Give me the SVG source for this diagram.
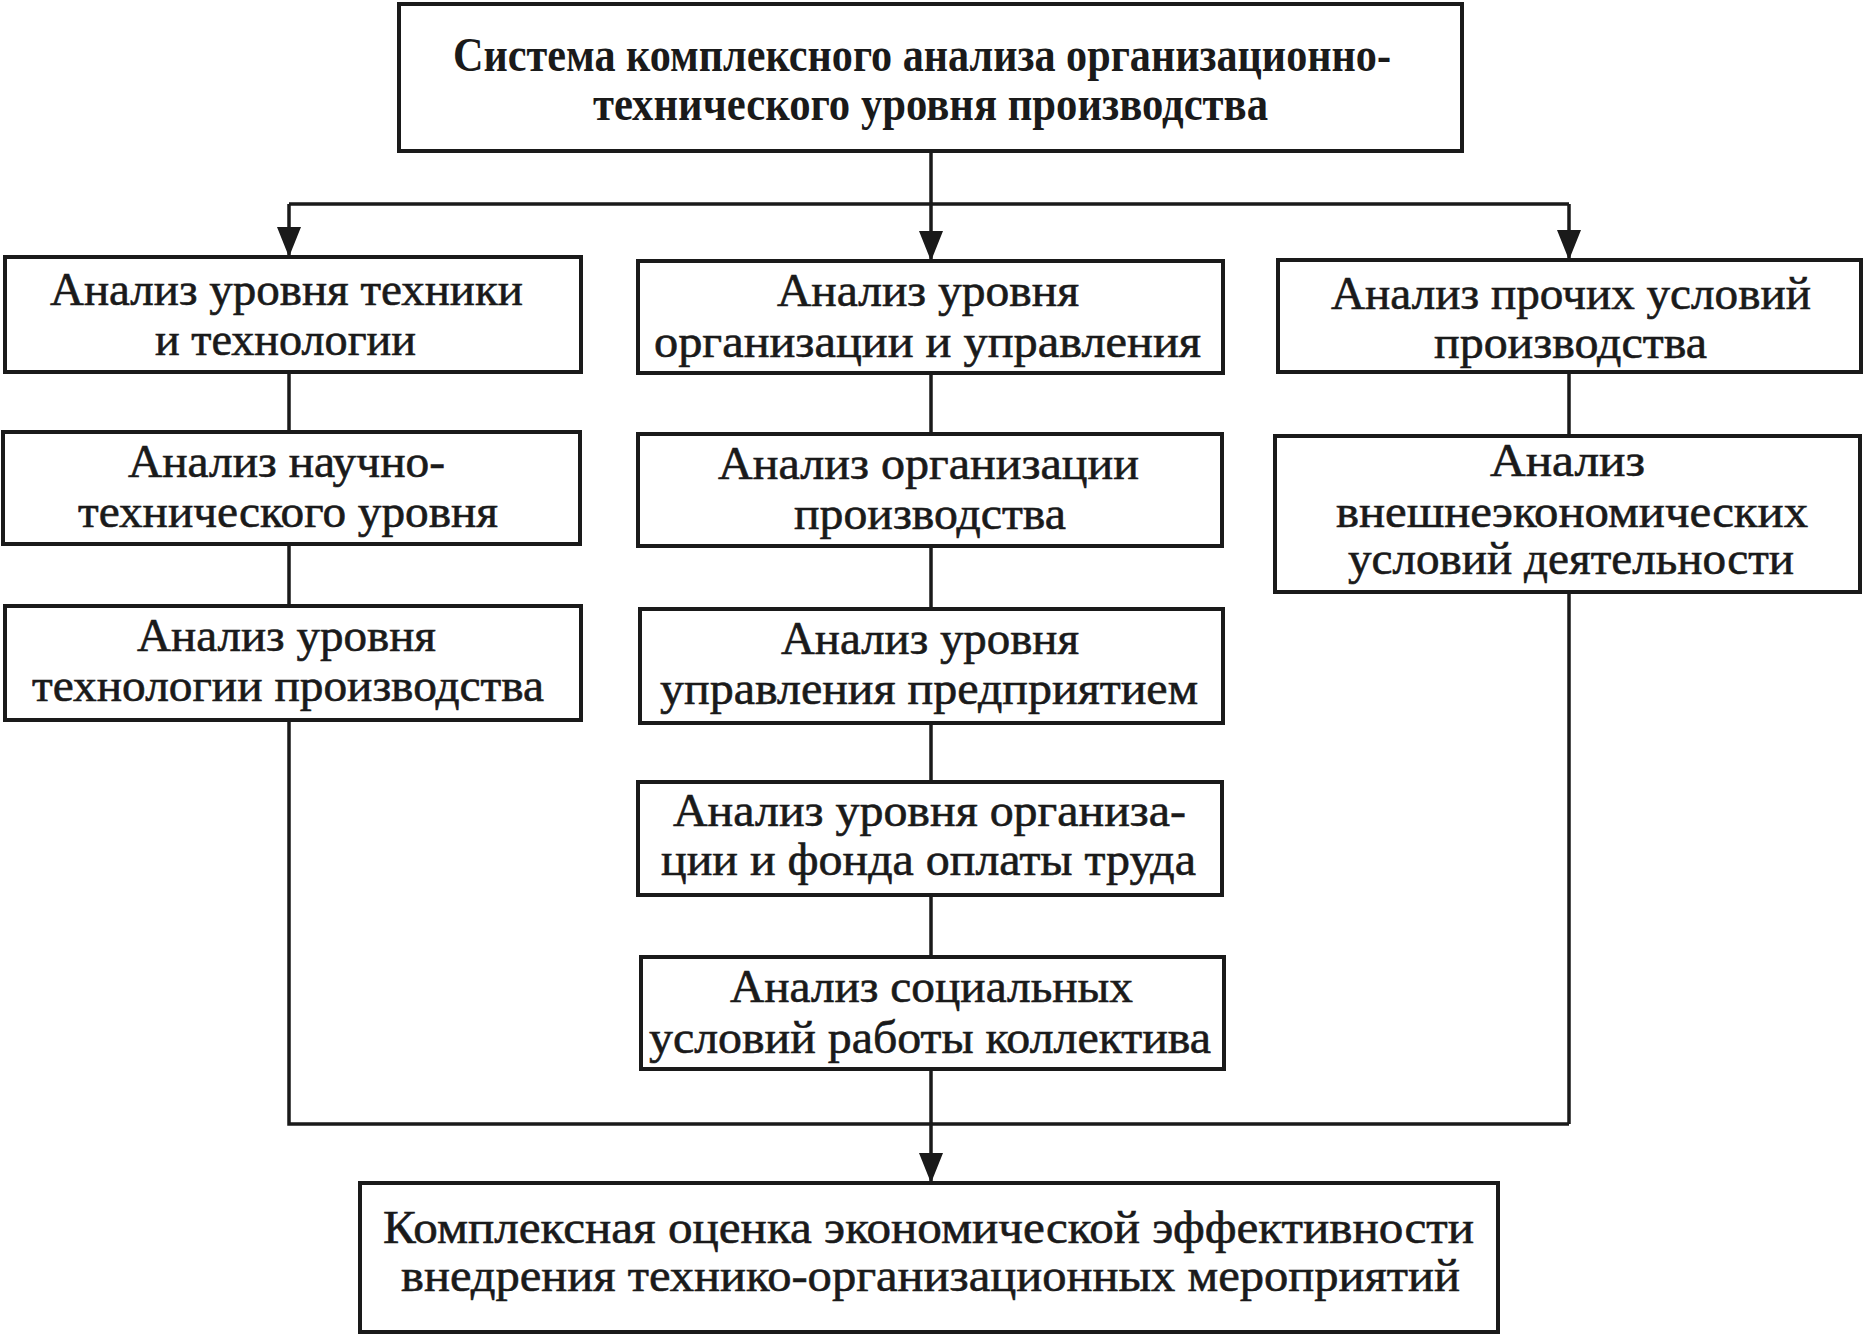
<svg xmlns="http://www.w3.org/2000/svg" width="1864" height="1337" viewBox="0 0 1864 1337">
<defs>
<style>
.box{fill:#fff;stroke:#1a1a1a;stroke-width:4}
.ln{fill:none;stroke:#1a1a1a;stroke-width:3.5}
.t{font-family:"Liberation Serif","Times New Roman",serif;font-size:46px;fill:#1a1a1a;stroke:#1a1a1a;stroke-width:0.6}
.tb{font-family:"Liberation Serif","Times New Roman",serif;font-size:48px;font-weight:bold;fill:#1a1a1a}
</style>
<marker id="ah" viewBox="0 0 30 24" refX="30" refY="12" markerWidth="30" markerHeight="24" markerUnits="userSpaceOnUse" orient="auto">
<path d="M0,0 L30,12 L0,24 Z" fill="#1a1a1a"/>
</marker>
</defs>
<rect width="1864" height="1337" fill="#fff"/>
<g id="connectors">
<path class="ln" d="M931,151 V204 M289,204 H1569"/>
<path class="ln" d="M289,204 V257" marker-end="url(#ah)"/>
<path class="ln" d="M931,204 V261" marker-end="url(#ah)"/>
<path class="ln" d="M1569,204 V260" marker-end="url(#ah)"/>
<path class="ln" d="M289,372 V432 M289,544 V606 M289,720 V1124 H1569 M1569,372 V436 M1569,592 V1124"/>
<path class="ln" d="M931,373 V434 M931,546 V609 M931,723 V782 M931,895 V957"/>
<path class="ln" d="M931,1069 V1183" marker-end="url(#ah)"/>
</g>
<g id="top">
<rect class="box" x="399" y="4" width="1063" height="147"/>
<text class="tb" x="453" y="71" textLength="938" lengthAdjust="spacingAndGlyphs">Система комплексного анализа организационно-</text>
<text class="tb" x="593" y="120" textLength="675" lengthAdjust="spacingAndGlyphs">технического уровня производства</text>
</g>
<g id="l1">
<rect class="box" x="5" y="257" width="576" height="115"/>
<text class="t" x="50" y="305" textLength="473" lengthAdjust="spacingAndGlyphs">Анализ уровня техники</text>
<text class="t" x="155" y="355" textLength="261" lengthAdjust="spacingAndGlyphs">и технологии</text>
</g>
<g id="l2">
<rect class="box" x="3" y="432" width="577" height="112"/>
<text class="t" x="128" y="477" textLength="317" lengthAdjust="spacingAndGlyphs">Анализ научно-</text>
<text class="t" x="78" y="527" textLength="420" lengthAdjust="spacingAndGlyphs">технического уровня</text>
</g>
<g id="l3">
<rect class="box" x="5" y="606" width="576" height="114"/>
<text class="t" x="137" y="651" textLength="299" lengthAdjust="spacingAndGlyphs">Анализ уровня</text>
<text class="t" x="32" y="701" textLength="512" lengthAdjust="spacingAndGlyphs">технологии производства</text>
</g>
<g id="m1">
<rect class="box" x="638" y="261" width="585" height="112"/>
<text class="t" x="777" y="306" textLength="302" lengthAdjust="spacingAndGlyphs">Анализ уровня</text>
<text class="t" x="654" y="357" textLength="547" lengthAdjust="spacingAndGlyphs">организации и управления</text>
</g>
<g id="m2">
<rect class="box" x="638" y="434" width="584" height="112"/>
<text class="t" x="718" y="479" textLength="421" lengthAdjust="spacingAndGlyphs">Анализ организации</text>
<text class="t" x="794" y="529" textLength="272" lengthAdjust="spacingAndGlyphs">производства</text>
</g>
<g id="m3">
<rect class="box" x="640" y="609" width="583" height="114"/>
<text class="t" x="781" y="654" textLength="298" lengthAdjust="spacingAndGlyphs">Анализ уровня</text>
<text class="t" x="660" y="704" textLength="538" lengthAdjust="spacingAndGlyphs">управления предприятием</text>
</g>
<g id="m4">
<rect class="box" x="638" y="782" width="584" height="113"/>
<text class="t" x="673" y="826" textLength="513" lengthAdjust="spacingAndGlyphs">Анализ уровня организа-</text>
<text class="t" x="661" y="875" textLength="535" lengthAdjust="spacingAndGlyphs">ции и фонда оплаты труда</text>
</g>
<g id="m5">
<rect class="box" x="641" y="957" width="583" height="112"/>
<text class="t" x="730" y="1002" textLength="403" lengthAdjust="spacingAndGlyphs">Анализ социальных</text>
<text class="t" x="649" y="1053" textLength="562" lengthAdjust="spacingAndGlyphs">условий работы коллектива</text>
</g>
<g id="r1">
<rect class="box" x="1278" y="260" width="583" height="112"/>
<text class="t" x="1331" y="309" textLength="480" lengthAdjust="spacingAndGlyphs">Анализ прочих условий</text>
<text class="t" x="1434" y="358" textLength="273" lengthAdjust="spacingAndGlyphs">производства</text>
</g>
<g id="r2">
<rect class="box" x="1275" y="436" width="585" height="156"/>
<text class="t" x="1490" y="476" textLength="155" lengthAdjust="spacingAndGlyphs">Анализ</text>
<text class="t" x="1336" y="527" textLength="472" lengthAdjust="spacingAndGlyphs">внешнеэкономических</text>
<text class="t" x="1348" y="574" textLength="446" lengthAdjust="spacingAndGlyphs">условий деятельности</text>
</g>
<g id="final">
<rect class="box" x="360" y="1183" width="1138" height="149"/>
<text class="t" x="383" y="1243" textLength="1091" lengthAdjust="spacingAndGlyphs">Комплексная оценка экономической эффективности</text>
<text class="t" x="401" y="1291" textLength="1059" lengthAdjust="spacingAndGlyphs">внедрения технико-организационных мероприятий</text>
</g>
</svg>
